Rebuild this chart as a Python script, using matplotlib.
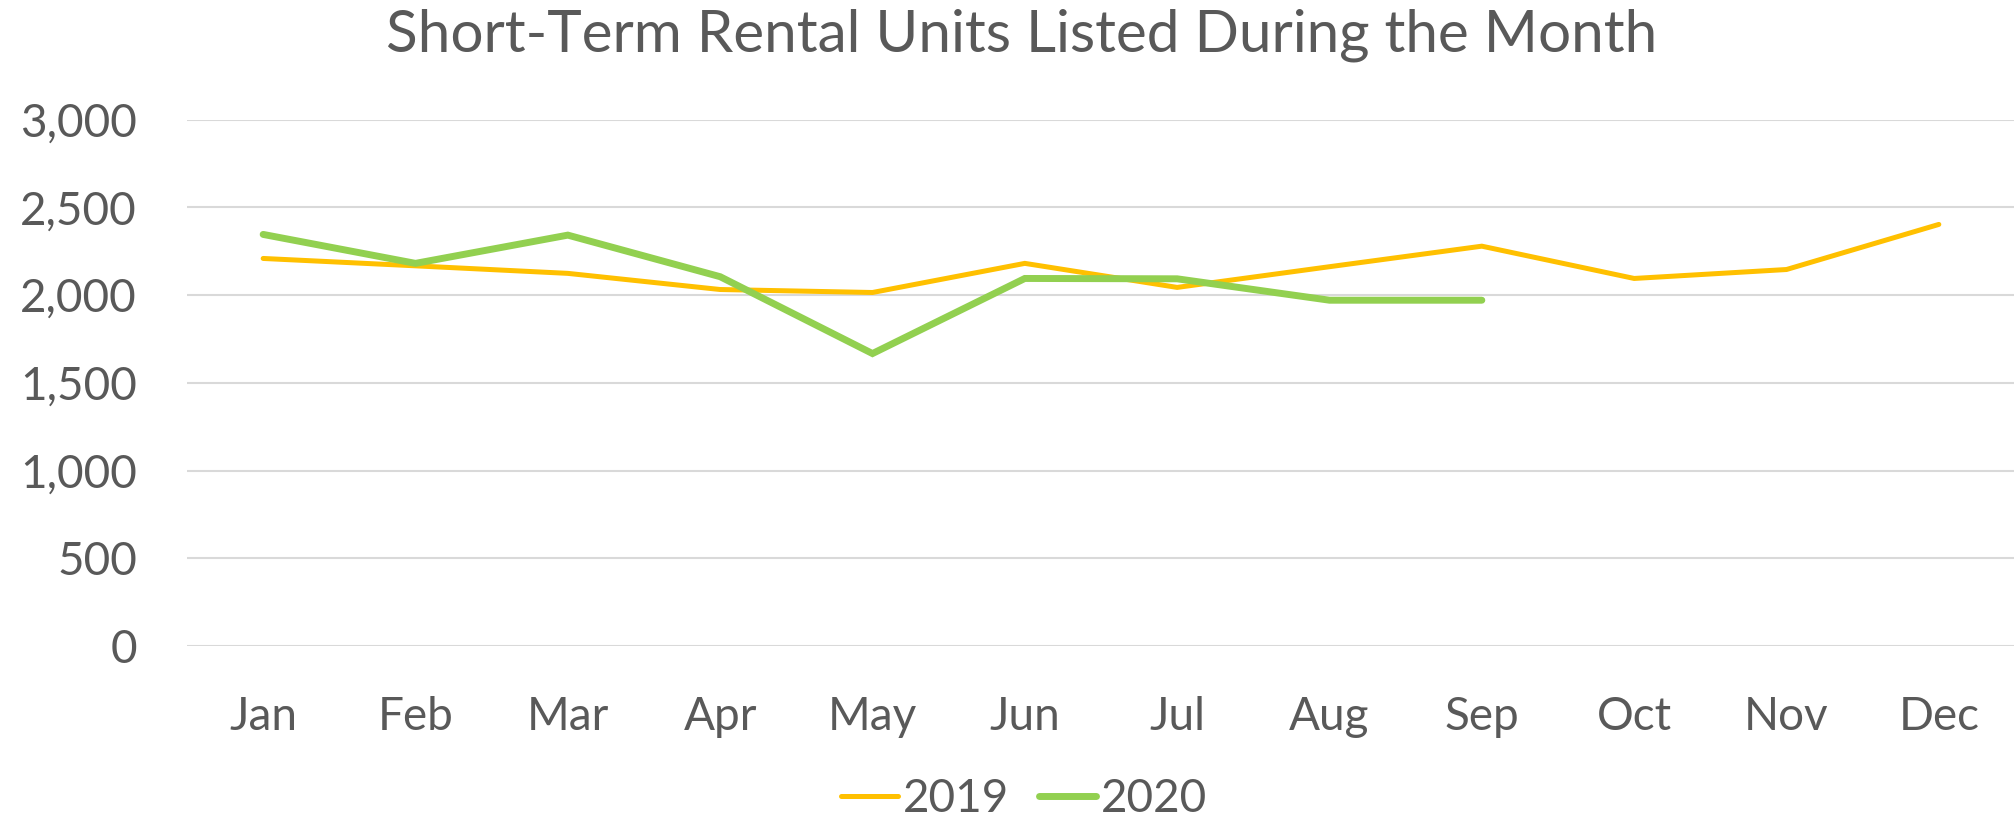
import matplotlib as mpl
import matplotlib.pyplot as plt
from matplotlib.ticker import FuncFormatter

# フォントの設定
mpl.rcParams['font.family'] = ['Lato', 'DejaVu Sans']

# データの定義
months = ['Jan', 'Feb', 'Mar', 'Apr', 'May', 'Jun', 'Jul', 'Aug', 'Sep', 'Oct', 'Nov', 'Dec']
units_2019 = [2209, 2167, 2124, 2032, 2015, 2181, 2044, 2162, 2279, 2095, 2146, 2403]
units_2020 = [2346, 2181, 2342, 2105, 1667, 2095, 2093, 1971, 1971]
yticks = [0, 500, 1000, 1500, 2000, 2500, 3000]

text_color = '#595959'

fig = plt.figure(figsize=(20.15, 8.23), dpi=100)
ax = fig.add_axes([0.0928, 0.215, 0.9072, 0.6396])

x19 = list(range(len(units_2019)))
x20 = list(range(len(units_2020)))
ax.plot(x19, units_2019, color='#FFC000', linewidth=3.6, label='2019', solid_capstyle='round', solid_joinstyle='miter')
ax.plot(x20, units_2020, color='#92D050', linewidth=5.0, label='2020', solid_capstyle='round', solid_joinstyle='miter')

# 軸の設定
ax.set_xlim(-0.5, 11.5)
ax.set_ylim(0, 3000)
ax.set_yticks(yticks)
ax.yaxis.set_major_formatter(FuncFormatter(lambda v, p: f'{int(v):,}'))
ax.set_xticks(x19)
ax.set_xticklabels(months)
ax.grid(True, axis='y', color='#D9D9D9', linewidth=1.5)
ax.set_axisbelow(True)
for s in ax.spines.values():
    s.set_visible(False)
ax.tick_params(axis='both', length=0, labelsize=33, colors=text_color)
ax.tick_params(axis='y', pad=36)
ax.tick_params(axis='x', pad=36)

fig.text(0.507, 0.957, 'Short-Term Rental Units Listed During the Month',
         ha='center', va='center', fontsize=42, color=text_color)

leg = ax.legend(loc='center', bbox_to_anchor=(0.458, -0.29), ncol=2, frameon=False,
                fontsize=33, handlelength=1.25, handletextpad=0.1, columnspacing=0.65)
for t in leg.get_texts():
    t.set_color(text_color)

fig.savefig('out.png', dpi=100)
